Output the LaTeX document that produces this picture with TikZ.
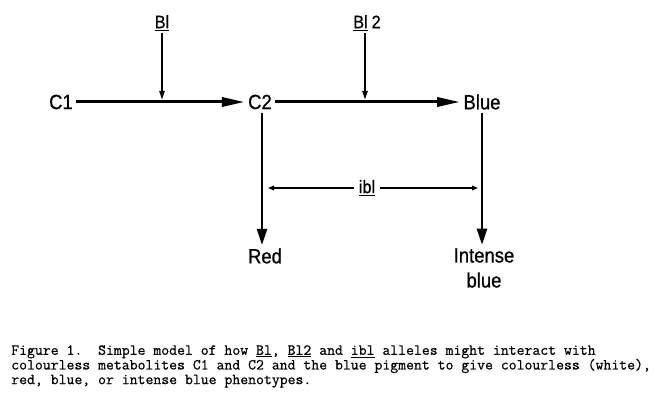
\documentclass[tikz,border=0pt]{standalone}
\usepackage{fontspec}
\usetikzlibrary{arrows.meta}
\newfontfamily\labelfont[FakeStretch=0.9,FakeBold=0.8]{Liberation Sans}
\newfontfamily\captionfont[FakeBold=0.6]{Latin Modern Mono}

\begin{document}
\begin{tikzpicture}[x=0.75pt,y=-0.75pt,
		main node/.style={font=\labelfont\fontsize{15.4}{18.75}\selectfont,inner sep=2.5pt},
		gene node/.style={font=\labelfont\fontsize{13.5}{15}\selectfont,inner sep=1.5pt},
		path arrow/.style={-{Triangle[length=17pt,width=6.8pt]},line width=2.25pt},
		end arrow/.style={-{Triangle[length=12pt,width=7.5pt]},line width=1.9pt},
		gene arrow/.style={-{Triangle[length=6.75pt,width=3.75pt]},line width=1.5pt},
		swap arrow/.style={-{Triangle[length=4.5pt,width=3.5pt]},line width=1.1pt}]
		
		\useasboundingbox (0,0) rectangle (657,402);
		
		\node[main node] (c1) at (61,102) {C1};
		\node[main node] (c2) [right of=c1,node distance=149.25pt] {C2};
		\node[main node] (blue) [right of=c2,node distance=166.5pt] {Blue};
		\node[main node] (red) at (265,256) {Red};
		\node[main node,align=center] (intense) at (484,268) {Intense\\blue};
		
		\node[gene node] (bl) at (162,23) {\underline{Bl}};
		\node[gene node] (bl2) at (367,23) {\underline{Bl}\hspace{3pt}2};
		\node[gene node,inner sep=3.5pt] (ibl) at (367,188) {\underline{ibl}};
		
		\coordinate (j1) at (162,100);
		\coordinate (j2) at (365,100);
		\coordinate (lft) at (268,188);
		\coordinate (rgt) at (478,188);
		
		\draw[path arrow] (c1) -- (c2);
		\draw[path arrow] (c2) -- (blue);
		\draw[gene arrow] (bl) -- (j1);
		\draw[gene arrow] (bl2.south -| j2) -- (j2);
		\draw[end arrow] ([xshift=1.5pt]c2.south) -- ([xshift=1.5pt]c2.south |- red.north);
		\draw[end arrow] (blue.south) -- (blue.south |- intense.north);
		\draw[swap arrow] (ibl) -- (lft);
		\draw[swap arrow] (ibl) -- (rgt);
		
		% caption
		\node[anchor=north west,align=left,inner sep=0pt,
			font=\captionfont\fontsize{11.5}{11}\selectfont\frenchspacing] (caption) at (11,345)
			{Figure 1.\ \ Simple model of how \underline{Bl}, \underline{Bl2} and \underline{ibl} alleles might interact with\\
			colourless metabolites C1 and C2 and the blue pigment to give colourless (white),\\
			red, blue, or intense blue phenotypes.};
		
\end{tikzpicture}
\end{document}
